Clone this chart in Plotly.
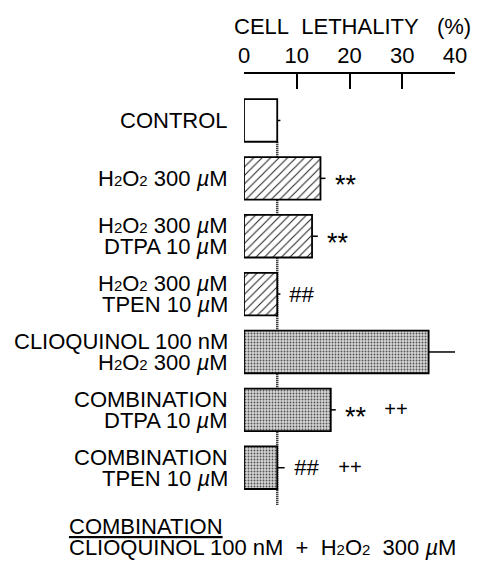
import plotly.graph_objects as go

# ---- data ----
SUB2 = "<span style='font-size:15px'>2</span>"
H2O2 = "H" + SUB2 + "O" + SUB2
label_line1 = ["CONTROL", H2O2 + " 300 <i>µ</i>M", H2O2 + " 300 <i>µ</i>M",
               H2O2 + " 300 <i>µ</i>M", "CLIOQUINOL 100 nM", "COMBINATION", "COMBINATION"]
label_line2 = ["", "", "DTPA 10 <i>µ</i>M", "TPEN 10 <i>µ</i>M", H2O2 + " 300 <i>µ</i>M",
               "DTPA 10 <i>µ</i>M", "TPEN 10 <i>µ</i>M"]
values = [6.3, 14.5, 12.9, 6.3, 35.0, 16.45, 6.3]
sem = [0.6, 0.95, 1.1, 0.6, 5.1, 0.95, 1.4]
stars = ["", "**", "**", "", "**", "**", ""]
hashes = ["", "", "", "##", "##", "", "##"]
pluses = ["", "", "", "", "", "++", "++"]
fill_group = ["plain", "hatch", "hatch", "hatch", "dots", "dots", "dots"]
x_ticks = [0, 10, 20, 30, 40]
x_title = "CELL\u00a0 LETHALITY\u00a0\u00a0 (%)"
footer_line1 = "<u>COMBINATION</u>"
footer_line2 = ("CLIOQUINOL 100 nM\u00a0 +\u00a0 " + H2O2 + "\u00a0 300 <i>µ</i>M")

FONT = "Liberation Sans, Arial, Helvetica, sans-serif"
FS = 22
n = len(values)
idx = list(range(n))
bar_w = 0.735
y_top, y_bot = -0.803, 6.644

styles = {
    "plain": dict(color="white"),
    "hatch": dict(color="white", pattern=dict(shape="/", size=6, solidity=0.17, fgcolor="#202020",
                                              bgcolor="white", fillmode="replace")),
    "dots": dict(color="#d0d0d0", pattern=dict(shape=".", size=3, solidity=0.3, fgcolor="#505050",
                                               bgcolor="#d6d6d6", fillmode="replace")),
}

fig = go.Figure()
for g in ["plain", "hatch", "dots"]:
    sel = [i for i in idx if fill_group[i] == g]
    m = dict(styles[g])
    m["line"] = dict(color="black", width=1.8)
    fig.add_trace(go.Bar(
        x=[values[i] for i in sel], y=sel, orientation="h", width=bar_w,
        marker=m,
        error_x=dict(type="data", symmetric=False, array=[sem[i] for i in sel],
                     arrayminus=[0] * len(sel), color="black", thickness=1.5, width=0),
        cliponaxis=False, showlegend=False, hoverinfo="skip",
    ))

# dotted reference line at control value
fig.add_shape(type="line", xref="x", yref="y", x0=values[0], x1=values[0],
              y0=0 + bar_w / 2, y1=y_bot, layer="below",
              line=dict(color="black", width=2.5, dash="1px,1px"))

ann = []
for i in idx:
    if label_line2[i]:
        ann.append(dict(x=0, y=i, xref="x", yref="y", text=label_line1[i], xanchor="right",
                        yanchor="middle", xshift=-14, yshift=10.5, showarrow=False))
        ann.append(dict(x=0, y=i, xref="x", yref="y", text=label_line2[i], xanchor="right",
                        yanchor="middle", xshift=-14, yshift=-10.5, showarrow=False))
    else:
        ann.append(dict(x=0, y=i, xref="x", yref="y", text=label_line1[i], xanchor="right",
                        yanchor="middle", xshift=-14, showarrow=False))
    end = values[i] + sem[i]
    two_rows = bool(stars[i] and hashes[i])
    if stars[i]:
        ann.append(dict(x=end, y=i, xref="x", yref="y", text=stars[i], xanchor="left",
                        yanchor="middle", xshift=7, yshift=(10.5 if two_rows else 0) - 7,
                        font=dict(size=27), showarrow=False))
    if hashes[i]:
        ann.append(dict(x=end, y=i, xref="x", yref="y", text="<i>" + hashes[i] + "</i>",
                        xanchor="left", yanchor="middle", xshift=7,
                        yshift=(-10.5 if two_rows else 0), font=dict(size=22), showarrow=False))
    if pluses[i]:
        ann.append(dict(x=end, y=i, xref="x", yref="y", text="<i>" + pluses[i] + "</i>",
                        xanchor="left", yanchor="middle", xshift=(46 if stars[i] else 51),
                        yshift=1, font=dict(size=20), showarrow=False))

ann.append(dict(x=0.5, y=(505 - 26) / 431, xref="paper", yref="paper", text=x_title,
                xanchor="center", yanchor="middle", xshift=3, showarrow=False))
ann.append(dict(x=(66.7 - 244) / 211, y=(505 - 526) / 431, xref="paper", yref="paper",
                text=footer_line1, xanchor="left", yanchor="middle", showarrow=False))
ann.append(dict(x=(66.7 - 244) / 211, y=(505 - 547.5) / 431, xref="paper", yref="paper",
                text=footer_line2, xanchor="left", yanchor="middle", showarrow=False))

fig.update_layout(
    width=490, height=563,
    margin=dict(l=244, r=35, t=74, b=58),
    paper_bgcolor="white", plot_bgcolor="white",
    font=dict(family=FONT, size=FS, color="black"),
    annotations=ann,
    barmode="overlay",
    xaxis=dict(side="top", range=[0, 40], tickvals=x_ticks, ticks="inside", ticklen=15,
               tickwidth=1.5, tickcolor="black", showline=True, linecolor="black", linewidth=1.5,
               showgrid=False, zeroline=False, tickfont=dict(size=FS), fixedrange=True),
    yaxis=dict(range=[y_bot, y_top], visible=False, fixedrange=True),
)

fig.write_html("out.html")
